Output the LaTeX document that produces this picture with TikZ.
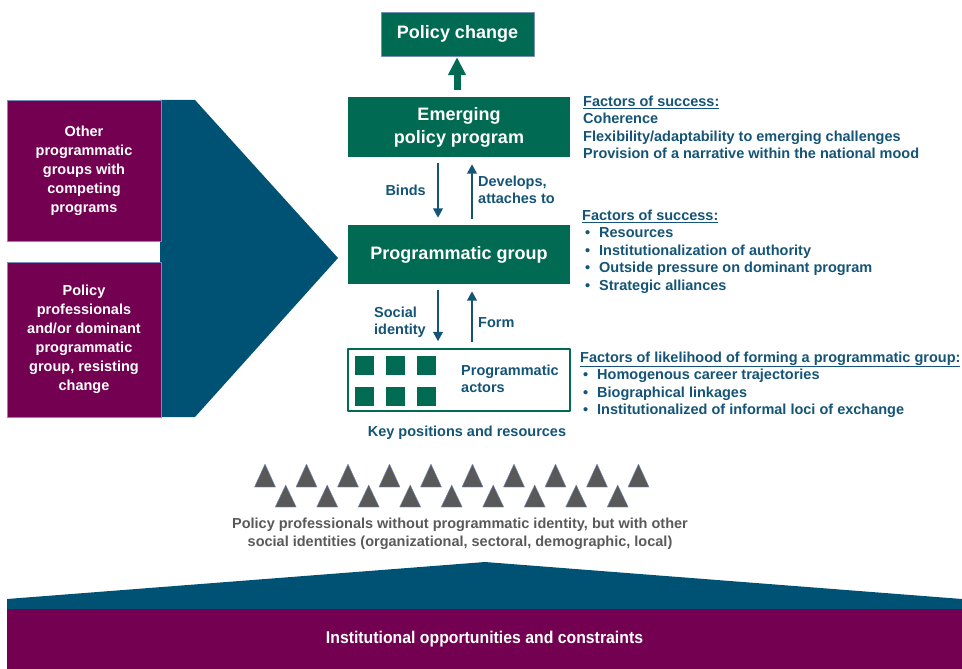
\documentclass[tikz,border=0pt]{standalone}
\usepackage{fontspec}
\setmainfont{Liberation Sans}
\newfontfamily\narrowfont[FakeStretch=0.93]{Liberation Sans}
\usetikzlibrary{arrows.meta,positioning}
\definecolor{pgreen}{RGB}{0,107,82}
\definecolor{pblue}{RGB}{0,82,116}
\definecolor{ppurple}{RGB}{115,0,80}
\definecolor{ptext}{RGB}{20,84,118}
\definecolor{pgray}{RGB}{89,89,89}
\definecolor{pedge}{RGB}{120,140,190}
\newcommand{\fsz}[2]{\fontsize{#1}{#2}\selectfont}
\newcommand{\itm}[1]{\makebox[14pt][l]{\textbullet}#1}
\begin{document}
\begin{tikzpicture}[x=1pt,y=-1pt,font=\bfseries\fsz{14.5}{17.5},line join=round,>=stealth,
	greenbox/.style={fill=pgreen,text=white,inner sep=0pt,align=center,font=\bfseries\fsz{18}{23}},
	purplebox/.style={fill=ppurple,draw=pedge,thin,text=white,inner sep=0pt,align=center,font=\bfseries\fsz{14.5}{19}},
	lbl/.style={text=ptext,inner sep=0pt,align=left},
	factors/.style={text=ptext,inner sep=0pt,align=left,anchor=north west},
	link/.style={draw=ptext,line width=2.7pt,-{Triangle[width=9.5pt,length=9.5pt]},shorten <=6pt,shorten >=7pt},
	actor/.style={fill=pgreen},
	person/.style={fill=pgray,draw=pedge,thin}]
	\useasboundingbox (0,0) rectangle (962,669);
	\def\tw{10.5} % half width of a triangle
	% left arrow shape and the two groups
	\fill[pblue] (160,100)--(195,100)--(338,258)--(195,417)--(160,417)--cycle;
	\node[purplebox,minimum width=154pt,minimum height=141pt] (others) at (84,170.5)
	{Other\\programmatic\\groups with\\competing\\programs};
	\node[purplebox,minimum width=154pt,minimum height=155pt] (dominant) at (84,339.5)
	{Policy\\professionals\\and/or dominant\\programmatic\\group, resisting\\change};
	% main column
	\node[greenbox,draw=pedge,thin,minimum width=153pt,minimum height=44pt] (change) at (457.5,34) {Policy change};
	\node[greenbox,minimum width=222pt,minimum height=60pt] (emerging) at (459,127) {Emerging\\policy program};
	\node[greenbox,minimum width=222pt,minimum height=59pt] (progroup) at (459,254.5) {Programmatic group};
	\node[draw=pgreen,line width=1.3pt,minimum width=222pt,minimum height=62pt,inner sep=0pt] (actors) at (459,380) {};
	\foreach \i in {0,1,2}
	\foreach \j in {356,387}
	\fill[actor] (355+31*\i,\j) rectangle +(19,19);
	\path
	(461,379) node[lbl,anchor=west] (actorstext) {Programmatic\\actors}
	(467,433) node[lbl,align=center] (keypos) {Key positions and resources}
	(426,190) node[lbl,anchor=east] (binds) {Binds}
	(478,190) node[lbl,anchor=west] (develops) {Develops,\\attaches to}
	(374,322) node[lbl,anchor=west] (social) {Social\\identity}
	(478,323) node[lbl,anchor=west] (form) {Form};
	\draw[pgreen,line width=7pt,-{Triangle[width=17pt,length=18pt]},shorten <=7pt,shorten >=1pt]
	([xshift=-2pt]emerging.north)--([xshift=-0.5pt]change.south);
	\draw[link] ([xshift=-21pt]emerging.south)--([xshift=-21pt]progroup.north);
	\draw[link] ([xshift=13pt]progroup.north)--([xshift=13pt]emerging.south);
	\draw[link] ([xshift=-21pt]progroup.south)--([xshift=-21pt]actors.north);
	\draw[link] ([xshift=13pt]actors.north)--([xshift=13pt]progroup.south);
	% factors
	\node[factors] (fprogram) at (583,95.5)
	{\underline{Factors of success:}\\Coherence\\Flexibility/adaptability to emerging challenges\\Provision of a narrative within the national mood};
	\node[factors] (fgroup) at (582,209.5)
	{\underline{Factors of success:}\\\hspace*{3pt}\itm{Resources}\\\hspace*{3pt}\itm{Institutionalization of authority}\\\hspace*{3pt}\itm{Outside pressure on dominant program}\\\hspace*{3pt}\itm{Strategic alliances}};
	\node[factors] (flikely) at (580,351.5)
	{\underline{Factors of likelihood of forming a programmatic group:}\\\hspace*{3pt}\itm{Homogenous career trajectories}\\\hspace*{3pt}\itm{Biographical linkages}\\\hspace*{3pt}\itm{Institutionalized of informal loci of exchange}};
	% policy professionals
	\foreach \i in {0,...,9}
	\filldraw[person] (265+41.5*\i-\tw,487)--(265+41.5*\i+\tw,487)--(265+41.5*\i,464)--cycle;
	\foreach \i in {0,...,8}
	\filldraw[person] (285.7+41.5*\i-\tw,507)--(285.7+41.5*\i+\tw,507)--(285.7+41.5*\i,485)--cycle;
	\node[text=pgray,align=center,inner sep=0pt] (professionals) at (460,534)
	{Policy professionals without programmatic identity, but with other\\social identities (organizational, sectoral, demographic, local)};
	% institutions
	\fill[pblue] (7,599)--(485,562)--(962,599)--(962,609.5)--(7,609.5)--cycle;
	\node[fill=ppurple,text=white,inner sep=0pt,minimum width=955pt,minimum height=60pt,font=\narrowfont\bfseries\fsz{17}{20}] (inst) at (484.5,639)
	{Institutional opportunities and constraints};
\end{tikzpicture}
\end{document}
